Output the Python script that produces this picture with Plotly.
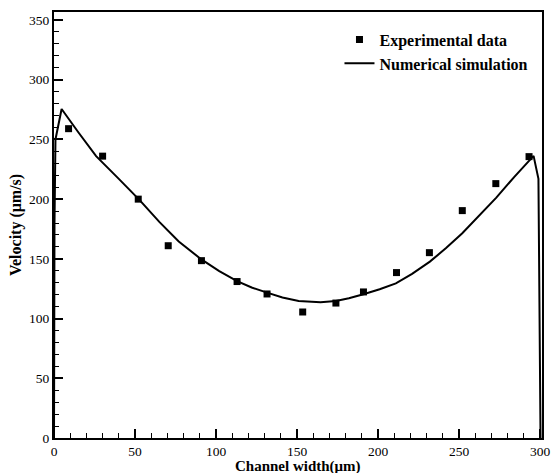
import plotly.graph_objects as go

# Experimental data
exp_x = [9, 30, 52, 70.5, 91, 113, 131.5, 153.5, 174, 191, 211.4, 231.7, 252, 272.7, 293.2]
exp_y = [259, 236, 200, 161, 148.5, 131, 120.6, 105.5, 113, 122.3, 138.5, 155.2, 190.4, 213, 235.6]

# Numerical simulation
sim_x = [0, 0.3, 0.9, 4.7, 15, 26, 40, 53, 65, 77, 91, 102, 113, 122, 131.5, 141,
         151, 164.5, 174, 182, 191, 201, 211, 221, 232, 242, 252, 262, 273, 284,
         296, 299.0, 299.8, 300.3]
sim_y = [0, 180, 250, 275.5, 256, 236, 217, 199, 181, 164.5, 149.5, 139.8, 131.3, 126,
         121.7, 117.7, 114.7, 113.6, 114.7, 117, 120.3, 124.5, 129.5, 137.5, 147.7,
         159, 171.4, 185.5, 201.3, 218.5, 236.2, 217, 100, 0]

x_ticks = [0, 50, 100, 150, 200, 250, 300]
y_ticks = [0, 50, 100, 150, 200, 250, 300, 350]

FF = "Times New Roman, Liberation Serif, serif"

fig = go.Figure()
fig.add_trace(go.Scatter(x=exp_x, y=exp_y, mode="markers", name="Experimental data",
                         marker=dict(symbol="square", size=7, color="black")))
fig.add_trace(go.Scatter(x=sim_x, y=sim_y, mode="lines", name="Numerical simulation",
                         line=dict(color="black", width=2)))

fig.update_layout(
    width=555, height=473,
    margin=dict(l=54, r=11, t=12, b=35),
    paper_bgcolor="white", plot_bgcolor="white",
    font=dict(family=FF, color="black", size=13.5),
    showlegend=True,
    legend=dict(x=0.585, y=0.975, xanchor="left", yanchor="top",
                font=dict(family=FF, size=16, color="black", weight="bold"),
                bgcolor="rgba(0,0,0,0)", tracegroupgap=0, itemwidth=30),
    annotations=[dict(text="<b>Channel width(μm)</b>", xref="paper", yref="paper",
                      x=0.5, y=-0.066, xanchor="center", yanchor="middle", showarrow=False,
                      font=dict(family=FF, size=15, color="black"))],
)
fig.update_xaxes(
    range=[0, 301.2], tickvals=x_ticks, ticktext=[str(v) for v in x_ticks],
    automargin=False,
    showgrid=False, zeroline=False, showline=True, linecolor="black", linewidth=2,
    mirror=True, ticks="inside", ticklen=9, tickwidth=2, tickcolor="black",
    minor=dict(dtick=10, tick0=0, ticks="inside", ticklen=5, tickwidth=1, tickcolor="black"),
    tickfont=dict(family=FF, size=13.5, color="black"),
)
fig.update_yaxes(
    range=[0, 356.7], tickvals=y_ticks, ticktext=[str(v) for v in y_ticks],
    automargin=True,
    showgrid=False, zeroline=False, showline=True, linecolor="black", linewidth=2,
    mirror=True, ticks="inside", ticklen=9, tickwidth=2, tickcolor="black",
    minor=dict(dtick=10, tick0=0, ticks="inside", ticklen=5, tickwidth=1, tickcolor="black"),
    tickfont=dict(family=FF, size=13.5, color="black"),
    title=dict(text="Velocity (μm/s)", font=dict(family=FF, size=16, weight="bold", color="black"), standoff=3),
)

fig.write_html("out.html")
